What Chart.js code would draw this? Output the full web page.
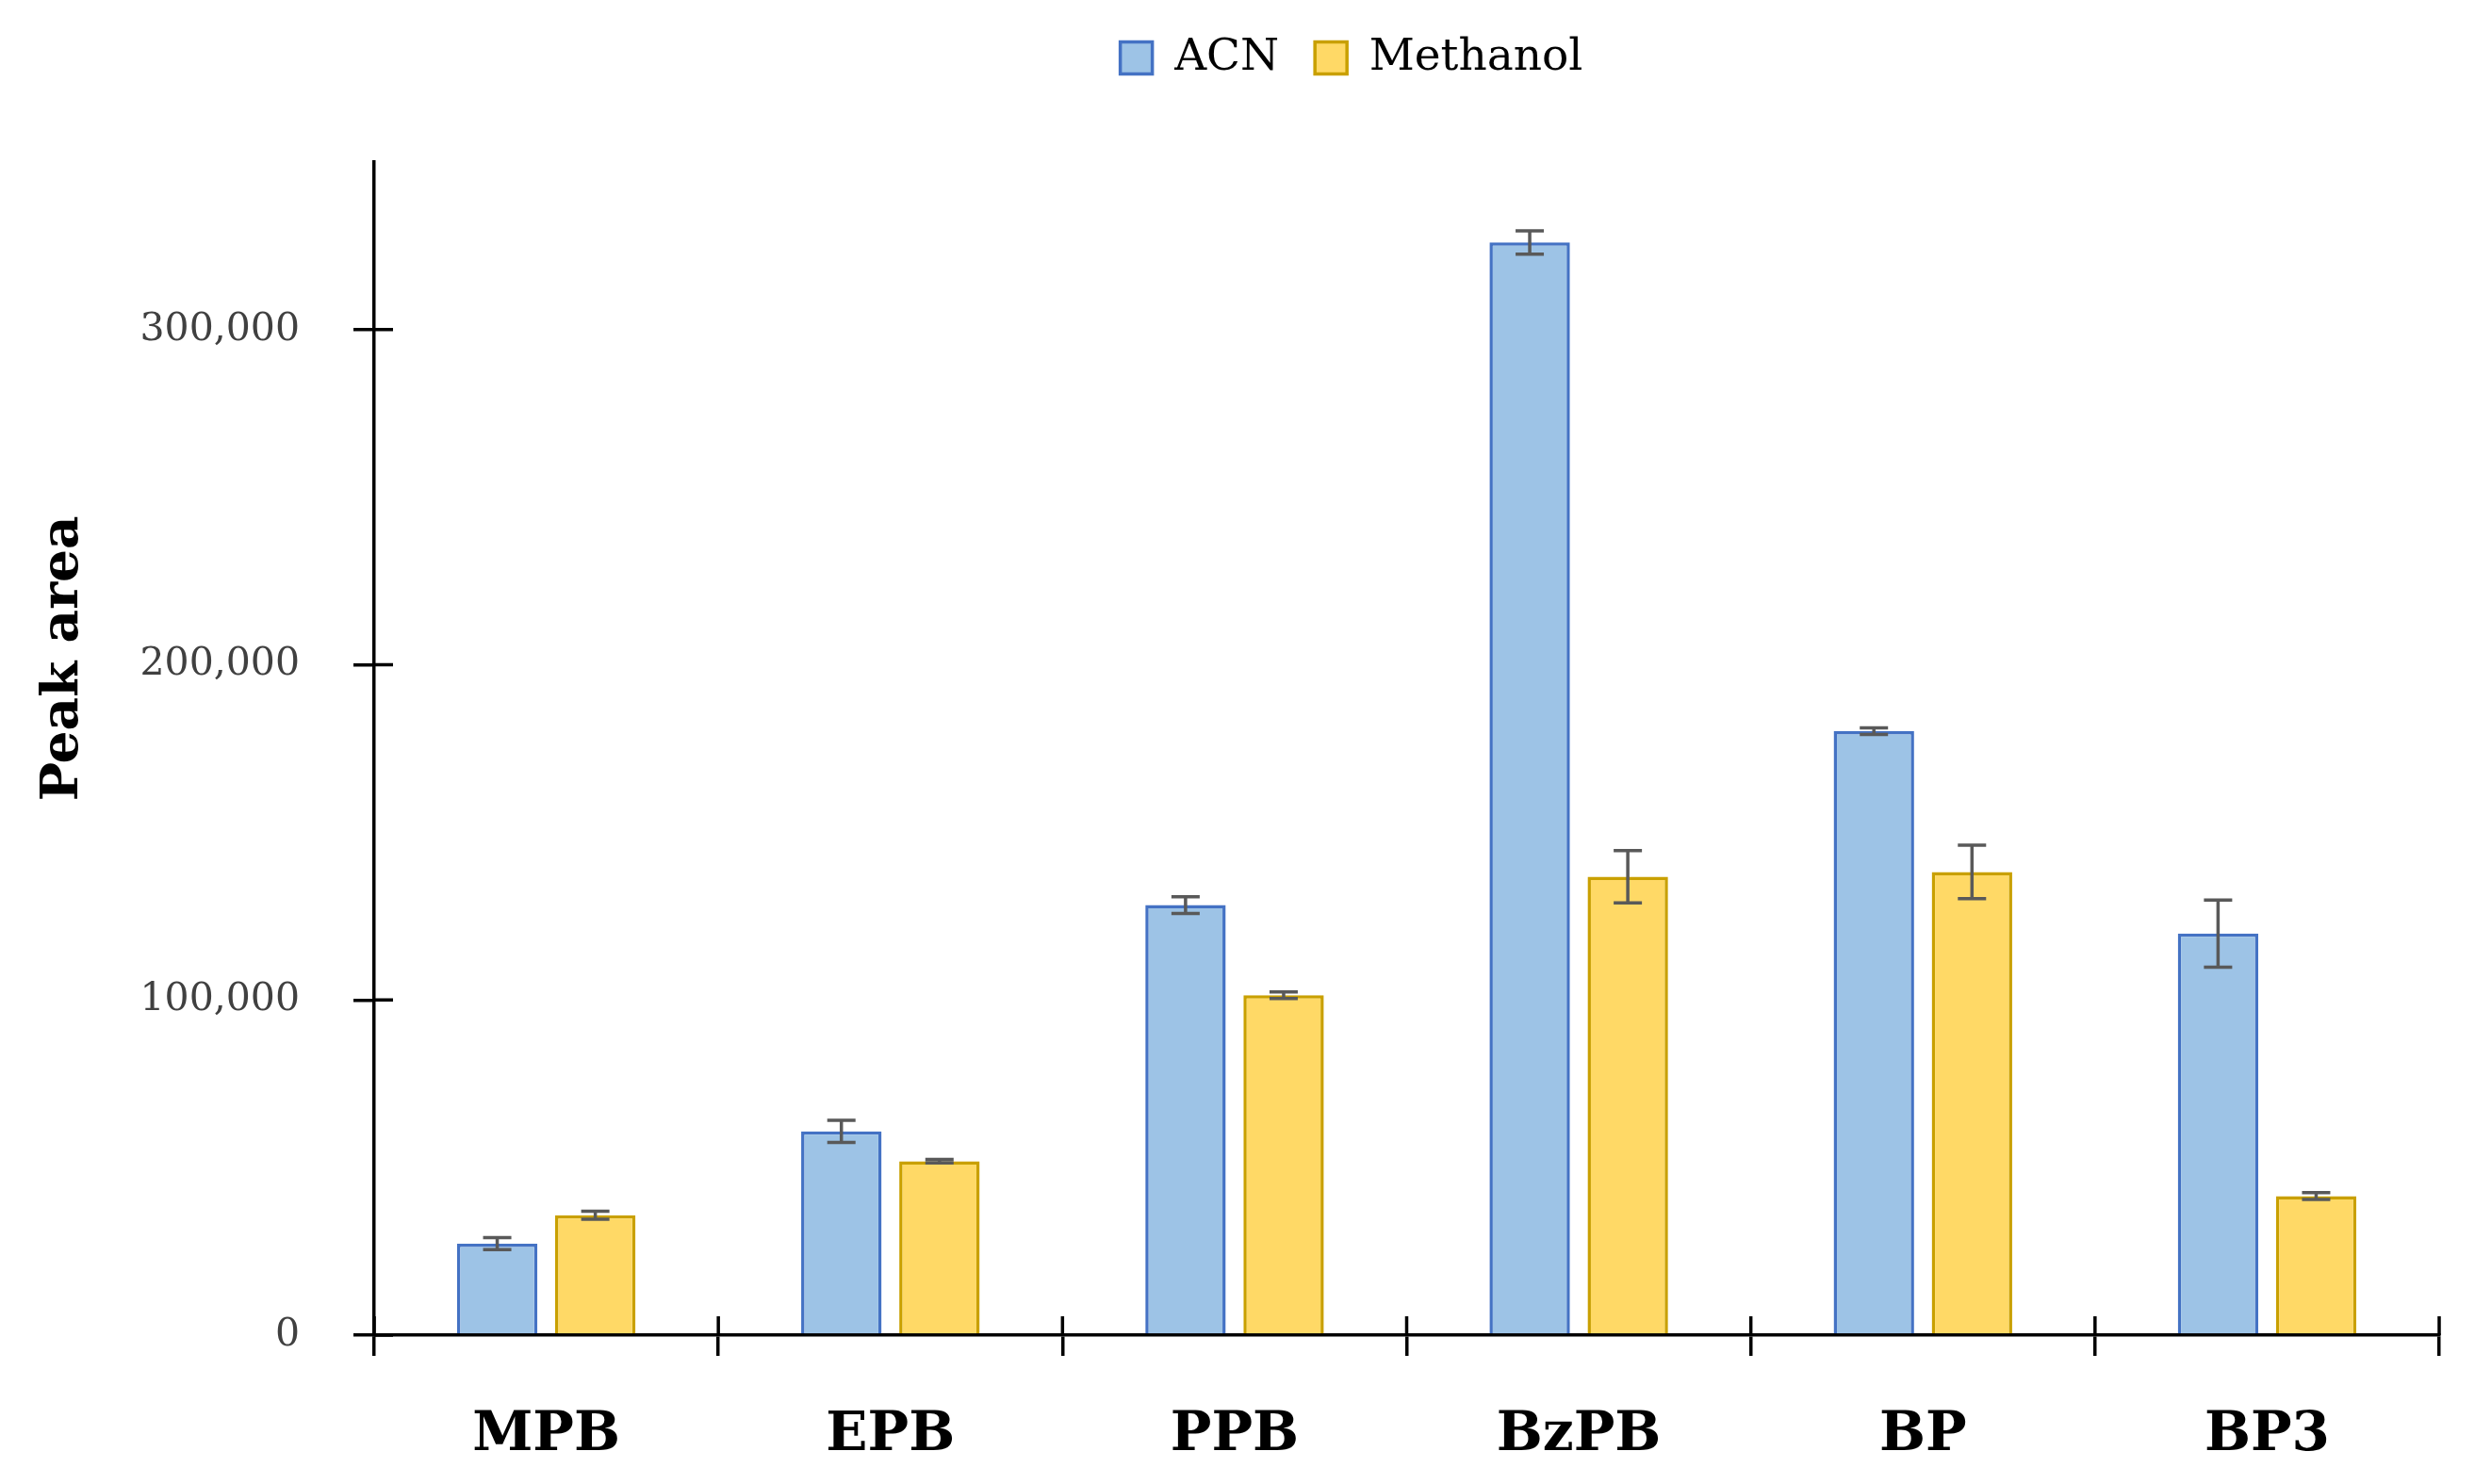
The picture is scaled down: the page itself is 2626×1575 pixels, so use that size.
<!DOCTYPE html>
<html>
<head>
<meta charset="utf-8">
<script src="https://cdn.jsdelivr.net/npm/chart.js@4.4.1/dist/chart.umd.min.js"></script>
<style>
  html, body { margin: 0; padding: 0; background: #ffffff; }
  #wrap { width: 2626px; height: 1575px; }
</style>
</head>
<body>
<div id="wrap"><canvas id="c" width="2626" height="1575"></canvas></div>
<script>
const categories = ['MPB', 'EPB', 'PPB', 'BzPB', 'BP', 'BP3'];
const seriesNames = ['ACN', 'Methanol'];
const acnValues = [27300, 60800, 128300, 326000, 180200, 119800];
const acnErrors = [1800, 3300, 2500, 3500, 1000, 10000];
const methanolValues = [35800, 51900, 101400, 136800, 138200, 41500];
const methanolErrors = [1200, 500, 1000, 7800, 8000, 1000];
const yTicks = [0, 100000, 200000, 300000];
const yMax = 350000;
const yTitle = 'Peak area';

const errorSets = [acnErrors, methanolErrors];

const errorBarPlugin = {
  id: 'errorBars',
  afterDatasetsDraw(chart) {
    const ctx = chart.ctx;
    const y = chart.scales.y;
    ctx.save();
    ctx.strokeStyle = '#595959';
    ctx.lineWidth = 3.5;
    chart.data.datasets.forEach((ds, i) => {
      const meta = chart.getDatasetMeta(i);
      meta.data.forEach((bar, j) => {
        const v = ds.data[j];
        const e = errorSets[i][j];
        const yt = y.getPixelForValue(v + e);
        const yb = y.getPixelForValue(v - e);
        const cw = 15;
        ctx.beginPath();
        ctx.moveTo(bar.x, yt); ctx.lineTo(bar.x, yb);
        ctx.moveTo(bar.x - cw, yt); ctx.lineTo(bar.x + cw, yt);
        ctx.moveTo(bar.x - cw, yb); ctx.lineTo(bar.x + cw, yb);
        ctx.stroke();
      });
    });
    ctx.restore();
  }
};

const innerTicksPlugin = {
  id: 'innerTicks',
  afterDraw(chart) {
    const ctx = chart.ctx;
    const area = chart.chartArea;
    const x = chart.scales.x;
    const y = chart.scales.y;
    ctx.save();
    ctx.strokeStyle = '#000000';
    ctx.lineWidth = 3.5;
    ctx.beginPath();
    y.ticks.forEach((t, i) => {
      const py = y.getPixelForTick(i);
      ctx.moveTo(area.left, py); ctx.lineTo(area.left + 20, py);
    });
    for (let k = 0; k <= categories.length; k++) {
      const px = x.getPixelForValue(k - 0.5);
      ctx.moveTo(px, area.bottom); ctx.lineTo(px, area.bottom - 20);
    }
    ctx.stroke();
    ctx.restore();
  }
};

const legendFitPlugin = {
  id: 'legendFit',
  beforeInit(chart) {
    if (chart.legend) {
      const orig = chart.legend.fit;
      chart.legend.fit = function () {
        orig.call(this);
        this.height = 172;
      };
    }
  },
  afterLayout(chart) {
    if (chart.legend) {
      chart.legend.left += 140;
      chart.legend.right += 140;
    }
  }
};

new Chart(document.getElementById('c'), {
  type: 'bar',
  data: {
    labels: categories,
    datasets: [
      {
        label: seriesNames[0],
        data: acnValues,
        backgroundColor: '#9DC3E6',
        borderColor: '#4472C4',
        borderWidth: 3.5,
        borderSkipped: 'bottom',
        categoryPercentage: 0.57,
        barPercentage: 0.82
      },
      {
        label: seriesNames[1],
        data: methanolValues,
        backgroundColor: '#FFD966',
        borderColor: '#C9A000',
        borderWidth: 3.5,
        borderSkipped: 'bottom',
        categoryPercentage: 0.57,
        barPercentage: 0.82
      }
    ]
  },
  options: {
    responsive: false,
    animation: false,
    devicePixelRatio: 1,
    layout: { padding: { left: 0, right: 38, top: 0, bottom: 0 } },
    plugins: {
      tooltip: { enabled: false },
      legend: {
        display: true,
        position: 'top',
        labels: {
          font: { family: 'DejaVu Serif', size: 47 },
          color: '#000000',
          boxWidth: 34,
          boxHeight: 34,
          padding: 38,
          useBorderRadius: false
        }
      }
    },
    scales: {
      x: {
        afterFit(scale) { scale.height = 158; },
        grid: {
          display: true,
          drawOnChartArea: false,
          drawTicks: true,
          tickLength: 22,
          color: '#000000',
          lineWidth: 3.5,
          offset: true
        },
        border: { display: true, color: '#000000', width: 3.5 },
        ticks: {
          font: { family: 'DejaVu Serif', size: 58, weight: 'bold' },
          color: '#000000',
          padding: 50
        }
      },
      y: {
        min: 0,
        max: yMax,
        afterFit(scale) { scale.width = 397; },
        afterBuildTicks(scale) { scale.ticks = yTicks.map(v => ({ value: v })); },
        grid: {
          display: true,
          drawOnChartArea: false,
          drawTicks: true,
          tickLength: 22,
          color: '#000000',
          lineWidth: 3.5
        },
        border: { display: true, color: '#000000', width: 3.5 },
        ticks: {
          font: { family: 'DejaVu Serif', size: 41 },
          color: '#404040',
          padding: 57,
          callback: (v) => Number(v).toLocaleString('en-US')
        },
        title: {
          display: true,
          text: '\u00a0'.repeat(10) + yTitle,
          font: { family: 'DejaVu Serif', size: 55, weight: 'bold' },
          color: '#000000',
          padding: { top: 35, bottom: 0 }
        }
      }
    }
  },
  plugins: [legendFitPlugin, errorBarPlugin, innerTicksPlugin]
});
</script>
</body>
</html>
